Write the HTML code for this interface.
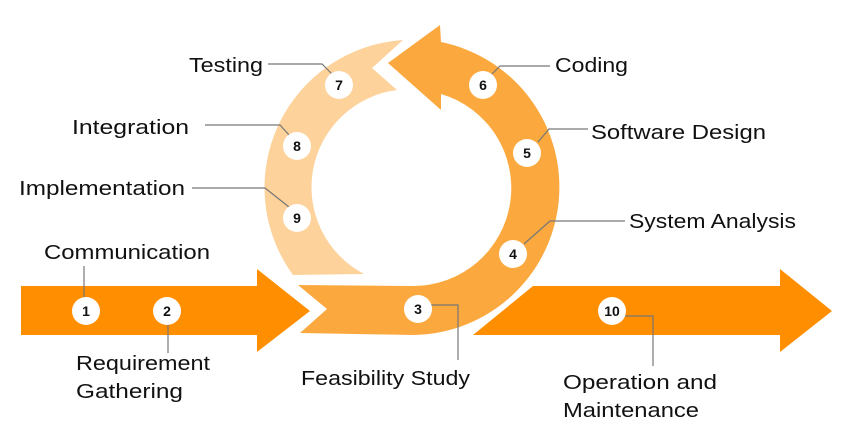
<!DOCTYPE html>
<html><head><meta charset="utf-8"><style>
html,body{margin:0;padding:0;background:#fff;}
svg{display:block}
text{font-family:"Liberation Sans",sans-serif;}
.l{font-size:20px;fill:#111;}
.n{font-size:14px;font-weight:bold;fill:#111;text-anchor:middle;}
.ld{stroke:#777;stroke-width:1.2;fill:none;}
</style></head><body>
<svg width="855" height="443" viewBox="0 0 855 443" xmlns="http://www.w3.org/2000/svg">
<polygon points="21,286 257,286 257,269 310,311 257,352 257,335 21,335" fill="#FF8F00"/>
<polygon points="533,286 780,286 780,269 832,311 780,352 780,335 473,335" fill="#FF8F00"/>
<path d="M293,275 A148 148 0 0 1 403,40 L372,68 L397,90 A98 98 0 0 0 364,274 Z" fill="#FDD29B"/>
<path d="M440,25 L388,63 L441,110 L441,94 A98 98 0 0 1 413,286 L298,285 L327,309 L300,333 L413,335 A148 148 0 0 0 441,42 Z" fill="#FBA93F"/>
<g class="ld">
<polyline points="268,64 322,64 334,76"/>
<polyline points="205,125 280,125 290,136"/>
<polyline points="192,188 265,188 289,207"/>
<polyline points="550,66 500,66 490,76"/>
<polyline points="588,129 549,129 538,142"/>
<polyline points="625,221 550,221 524,244"/>
<polyline points="430,305 458,305 458,360"/>
<polyline points="84,266 84,298"/>
<polyline points="168,324 168,353"/>
<polyline points="625,316 653,316 653,366"/>
</g>
<g fill="#fff">
<circle cx="339" cy="85" r="14"/><circle cx="297" cy="146" r="14"/><circle cx="297" cy="218" r="14"/>
<circle cx="483" cy="85" r="14"/><circle cx="527" cy="153" r="14"/><circle cx="513" cy="254" r="14"/>
<circle cx="418" cy="309" r="14"/><circle cx="86" cy="311" r="14"/><circle cx="167" cy="311" r="14"/>
<circle cx="612" cy="311" r="14"/>
</g>
<g class="n">
<text x="339" y="90">7</text><text x="297" y="151">8</text><text x="297" y="223">9</text>
<text x="483" y="90">6</text><text x="527" y="158">5</text><text x="513" y="259">4</text>
<text x="418" y="314">3</text><text x="86" y="316">1</text><text x="167" y="316">2</text>
<text x="612" y="316">10</text>
</g>
<g class="l">
<text x="189" y="72" textLength="74" lengthAdjust="spacingAndGlyphs">Testing</text>
<text x="72" y="134" textLength="117" lengthAdjust="spacingAndGlyphs">Integration</text>
<text x="19" y="195" textLength="166" lengthAdjust="spacingAndGlyphs">Implementation</text>
<text x="44" y="259" textLength="166" lengthAdjust="spacingAndGlyphs">Communication</text>
<text x="76" y="370" textLength="134" lengthAdjust="spacingAndGlyphs">Requirement</text>
<text x="76" y="398" textLength="107" lengthAdjust="spacingAndGlyphs">Gathering</text>
<text x="301" y="385" textLength="169" lengthAdjust="spacingAndGlyphs">Feasibility Study</text>
<text x="563" y="389" textLength="154" lengthAdjust="spacingAndGlyphs">Operation and</text>
<text x="563" y="417" textLength="136" lengthAdjust="spacingAndGlyphs">Maintenance</text>
<text x="555" y="72" textLength="73" lengthAdjust="spacingAndGlyphs">Coding</text>
<text x="591" y="139" textLength="175" lengthAdjust="spacingAndGlyphs">Software Design</text>
<text x="629" y="228" textLength="167" lengthAdjust="spacingAndGlyphs">System Analysis</text>
</g>
</svg>
</body></html>
